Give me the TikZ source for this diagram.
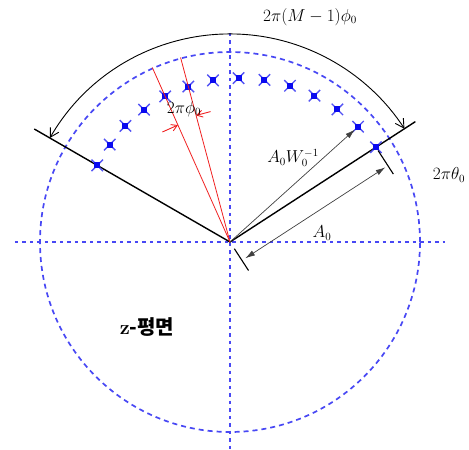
\documentclass[tikz,border=0pt]{standalone}
\usepackage{fontspec}
\newfontfamily\kfont{Noto Sans CJK KR}
\usepackage{tikz}
\usetikzlibrary{arrows.meta, positioning, calc, shapes.misc}
\definecolor{axisblue}{HTML}{4848F4}
\definecolor{markblue}{HTML}{0A0AF0}
\definecolor{rayred}{HTML}{F02020}
\definecolor{dimgray}{HTML}{404040}
\tikzset{
  axis/.style={draw=axisblue, line width=1.7pt, dash pattern=on 3.5pt off 4pt},
  ring/.style={draw=axisblue, line width=1.7pt, dash pattern=on 5pt off 4pt},
  edge/.style={draw=black, line width=1.4pt},
  span/.style={{Straight Barb[length=3mm, width=3.4mm]}-{Straight Barb[length=3mm, width=3.4mm]}, draw=black, line width=0.9pt},
  dim/.style={{Latex[length=3.4mm, width=2mm]}-{Latex[length=3.4mm, width=2mm]}, draw=dimgray, line width=0.7pt},
  reach/.style={-{Latex[length=3.4mm, width=2mm]}, draw=dimgray, line width=0.7pt},
  ray/.style={draw=rayred, line width=0.8pt},
  pinch/.style={-{Straight Barb[length=2mm, width=2.4mm]}, draw=rayred, line width=0.9pt},
  spike/.style={cross out, draw=markblue!70, line width=1.4pt, minimum size=10pt, inner sep=0},
  smp/.style={rectangle, fill=markblue, minimum size=6pt, inner sep=0},
  lbl/.style={inner sep=0, font=\fontsize{16}{18}\selectfont}
}
\begin{document}
\begin{tikzpicture}[x=1pt, y=1pt]
\useasboundingbox (-230,-208) rectangle (239,242);
\coordinate (o) at (0,0);
% dashed axes and unit circle
\coordinate (xl) at (-215,0); \coordinate (xr) at (215,0);
\coordinate (yt) at (0,209); \coordinate (yb) at (0,-208);
\draw[axis] (xl) -- (xr);
\draw[axis] (yt) -- (yb);
\draw[ring] (o) circle[radius=190];
% sector edges
\coordinate (lend) at (150:226); \coordinate (rend) at (33:221);
\draw[edge] (lend) -- (o) -- (rend);
% sample points on the spiral
\foreach \k in {0,...,13}{
  \pgfmathsetmacro{\r}{174*pow(0.9903,\k)}
  \node[spike] at ({33+9*\k}:\r) {};
  \node[smp] (p\k) at ({33+9*\k}:\r) {};
}
% red rays and angle step
\coordinate (ua) at (114:191); \coordinate (ub) at (105:191);
\draw[ray] (o) -- (ua);
\draw[ray] (o) -- (ub);
\coordinate (ta) at (114:128); \coordinate (sa) at ($(ta)+(204:17)$);
\coordinate (tb) at (105:131); \coordinate (sb) at ($(tb)+(15:15)$);
\draw[pinch] (sa) -- (ta);
\draw[pinch] (sb) -- (tb);
\node[lbl] (phi) at (-46,133) {$2\pi\phi_0$};
% total span
\draw[span] (150:208) arc[start angle=150, end angle=33, radius=208];
\node[lbl] (tot) at (80,225) {$2\pi(M-1)\phi_0$};
% radius A0 with ticks
\coordinate (k1) at ($(o)+(-57:8)$); \coordinate (k2) at ($(o)+(-57:34)$);
\coordinate (k3) at ($(33:174)+(-57:4)$); \coordinate (k4) at ($(33:174)+(-57:32)$);
\draw[edge, line width=1.1pt] (k1) -- (k2);
\draw[edge, line width=1.1pt] (k3) -- (k4);
\coordinate (da) at ($(-57:22)+(33:4)$); \coordinate (db) at ($(-57:22)+(33:171)$);
\draw[dim] (da) -- (db);
\node[lbl] (a0) at (92,9) {$A_0$};
% radius to second sample
\draw[reach] (o) -- (p1);
\node[lbl] (aw) at (63,84) {$A_0W_0^{-1}$};
\node[lbl] (th) at (219,67) {$2\pi\theta_0$};
\node[inner sep=0, font=\fontsize{20}{22}\selectfont] (zp) at (-83,-85) {\textbf{z}{\kfont\bfseries -평면}};
\end{tikzpicture}
\end{document}
